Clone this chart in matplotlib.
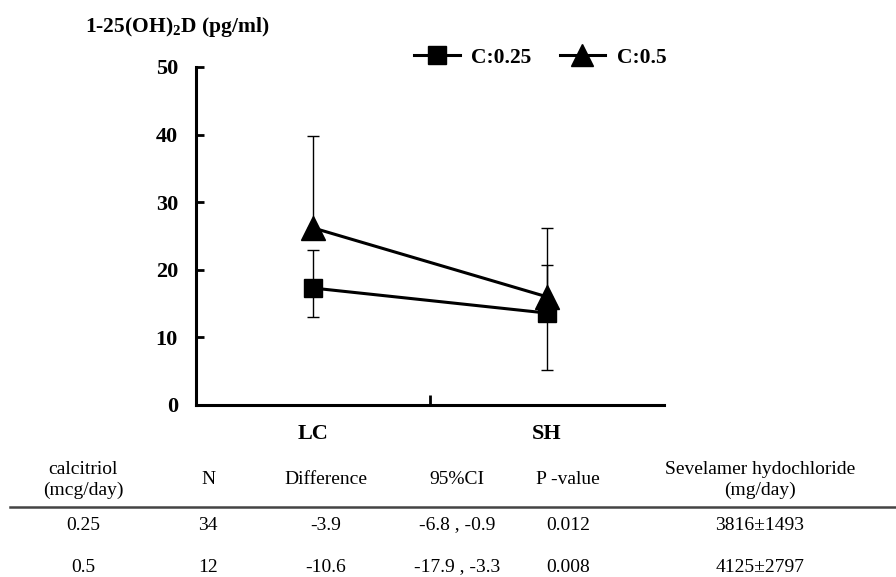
import matplotlib
matplotlib.use('Agg')
import matplotlib.pyplot as plt
from matplotlib.lines import Line2D

plt.rcParams['font.family'] = ['Liberation Serif', 'DejaVu Serif']
plt.rcParams['mathtext.fontset'] = 'custom'
plt.rcParams['mathtext.rm'] = 'Liberation Serif'
plt.rcParams['mathtext.bf'] = 'Liberation Serif:bold'

# data
groups = ['LC', 'SH']
c025_mean = [17.3, 13.6]
c025_low = [13.0, 5.2]
c025_high = [22.9, 20.7]
c05_mean = [26.2, 16.0]
c05_high = [39.8, 26.2]

# table under the chart
headers = ['calcitriol\n(mcg/day)', 'N', 'Difference', '95%CI', 'P -value', 'Sevelamer hydochloride\n(mg/day)']
row1 = ['0.25', '34', '-3.9', '-6.8 , -0.9', '0.012', '3816\u00b11493']
row2 = ['0.5', '12', '-10.6', '-17.9 , -3.3', '0.008', '4125\u00b12797']
col_x = [83, 208, 326, 457, 568, 760]

W, H = 896, 577
fig = plt.figure(figsize=(W / 100, H / 100), dpi=100)
ax = fig.add_axes([196 / W, 1 - 405 / H, (664 - 196) / W, (405 - 67) / H])

xpos = [0.5, 1.5]

# error bars
ax.errorbar(xpos, c025_mean,
            yerr=[[m - l for m, l in zip(c025_mean, c025_low)],
                  [h - m for m, h in zip(c025_mean, c025_high)]],
            fmt='none', ecolor='black', elinewidth=1.0, capsize=4, capthick=1.0, zorder=2)
ax.errorbar(xpos, c05_mean,
            yerr=[[0, 0], [h - m for m, h in zip(c05_mean, c05_high)]],
            fmt='none', ecolor='black', elinewidth=1.0, capsize=4, capthick=1.0, zorder=2)

l1, = ax.plot(xpos, c025_mean, color='black', lw=2.2, marker='s', ms=13, zorder=3)
l2, = ax.plot(xpos, c05_mean, color='black', lw=2.2, marker='^', ms=17, zorder=3)

ax.set_xlim(0, 2)
ax.set_ylim(0, 50)
ax.spines['top'].set_visible(False)
ax.spines['right'].set_visible(False)
ax.spines['left'].set_linewidth(2.2)
ax.spines['bottom'].set_linewidth(2.2)

ax.set_yticks([0, 10, 20, 30, 40, 50])
ax.tick_params(axis='y', direction='in', length=6, width=2, pad=13, labelsize=16)
for t in ax.get_yticklabels():
    t.set_fontweight('bold')

ax.set_xticks([1])
ax.set_xticklabels([''])
ax.tick_params(axis='x', which='major', direction='in', length=7, width=2)
ax.set_xticks(xpos, minor=True)
ax.set_xticklabels(groups, minor=True, fontsize=16, fontweight='bold')
ax.tick_params(axis='x', which='minor', length=0, pad=14)

fig.text(85 / W, 1 - 27 / H, '1-25(OH)$_\\mathbf{2}$D (pg/ml)', fontsize=15.5,
         fontweight='bold', ha='left', va='center')

leg = fig.legend([l1, l2], ['C:0.25', 'C:0.5'], loc='center left',
                 bbox_to_anchor=(395 / W, 1 - 58 / H), ncol=2, frameon=False,
                 handlelength=2.1, handletextpad=0.55, columnspacing=1.3,
                 prop={'size': 15.5, 'weight': 'bold'})
leg.legend_handles[0].set_markersize(13)
leg.legend_handles[1].set_markersize(16)

# table
hdr_y = 1 - 480 / H
for x, h in zip(col_x, headers):
    fig.text(x / W, hdr_y, h, fontsize=14, ha='center', va='center', linespacing=1.3)
fig.add_artist(Line2D([10 / W, 1], [1 - 507 / H, 1 - 507 / H], color='#444444', lw=1.8))
for x, v in zip(col_x, row1):
    fig.text(x / W, 1 - 525 / H, v, fontsize=14, ha='center', va='center')
for x, v in zip(col_x, row2):
    fig.text(x / W, 1 - 567 / H, v, fontsize=14, ha='center', va='center')

fig.savefig('out.png', dpi=100)
